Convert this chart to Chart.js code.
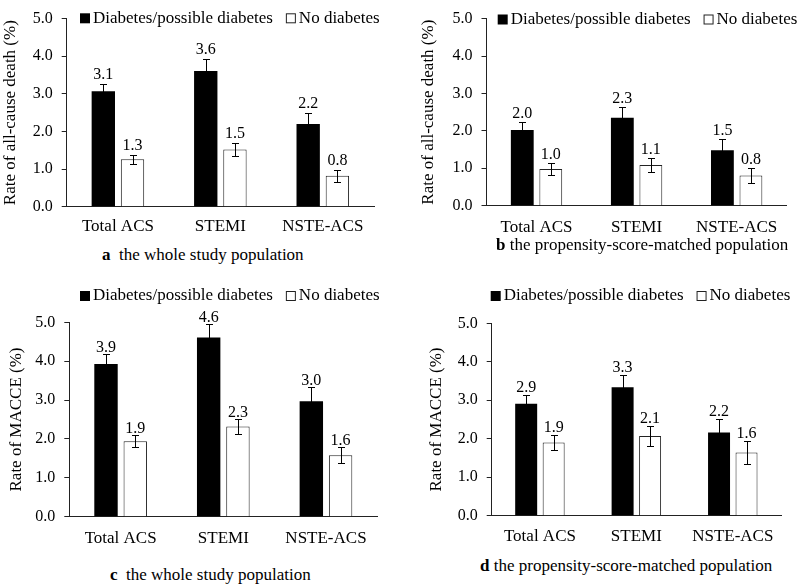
<!DOCTYPE html>
<html>
<head>
<meta charset="utf-8">
<script src="https://cdn.jsdelivr.net/npm/chart.js@4.4.0/dist/chart.umd.min.js"></script>
<style>
  body { margin: 0; background: #fff; width: 797px; height: 585px; position: relative; overflow: hidden;
         font-family: 'Liberation Serif', 'Times New Roman', serif; }
  canvas { position: absolute; }
  .legenda { position: absolute; font-size: 17px; line-height: 1; white-space: nowrap; color: #000; }
</style>
</head>
<body>
<canvas id="gA" width="398" height="240" style="left:0px;top:0px"></canvas>
<canvas id="gB" width="379" height="240" style="left:418px;top:0px"></canvas>
<canvas id="gC" width="392" height="265" style="left:6px;top:285px"></canvas>
<canvas id="gD" width="371" height="265" style="left:426px;top:285px"></canvas>

<div class="legenda" style="left:102px;top:246px"><b>a</b>&nbsp;&nbsp;the whole study population</div>
<div class="legenda" style="left:496px;top:236px"><b>b</b> the propensity-score-matched population</div>
<div class="legenda" style="left:110px;top:566px"><b>c</b>&nbsp;&nbsp;the whole study population</div>
<div class="legenda" style="left:480px;top:557px"><b>d</b> the propensity-score-matched population</div>

<script>
const categories = ['Total ACS', 'STEMI', 'NSTE-ACS'];
const yTicks = [0, 1, 2, 3, 4, 5];

// a - all-cause death, whole population
const deathAllDiab = [3.07, 3.61, 2.20];
const deathAllDiabErr = [0.19, 0.31, 0.30];
const deathAllDiabLbl = ['3.1', '3.6', '2.2'];
const deathAllNo = [1.26, 1.52, 0.82];
const deathAllNoErr = [0.12, 0.16, 0.16];
const deathAllNoLbl = ['1.3', '1.5', '0.8'];

// b - all-cause death, matched population
const deathPsmDiab = [2.02, 2.35, 1.48];
const deathPsmDiabErr = [0.21, 0.29, 0.30];
const deathPsmDiabLbl = ['2.0', '2.3', '1.5'];
const deathPsmNo = [0.98, 1.09, 0.81];
const deathPsmNoErr = [0.15, 0.19, 0.21];
const deathPsmNoLbl = ['1.0', '1.1', '0.8'];

// c - MACCE, whole population
const macceAllDiab = [3.93, 4.61, 2.97];
const macceAllDiabErr = [0.25, 0.35, 0.36];
const macceAllDiabLbl = ['3.9', '4.6', '3.0'];
const macceAllNo = [1.94, 2.32, 1.58];
const macceAllNoErr = [0.15, 0.19, 0.21];
const macceAllNoLbl = ['1.9', '2.3', '1.6'];

// d - MACCE, matched population
const maccePsmDiab = [2.91, 3.34, 2.16];
const maccePsmDiabErr = [0.23, 0.32, 0.35];
const maccePsmDiabLbl = ['2.9', '3.3', '2.2'];
const maccePsmNo = [1.90, 2.07, 1.64];
const maccePsmNoErr = [0.20, 0.27, 0.30];
const maccePsmNoLbl = ['1.9', '2.1', '1.6'];

const FONTE = "'Liberation Serif', 'Times New Roman', serif";
Chart.defaults.font.family = FONTE;
Chart.defaults.font.size = 16;
Chart.defaults.color = '#000';

// legend drawn by hand so it can sit inside the plot like the original
const legendaManual = {
  id: 'legendaManual',
  afterDraw(chart, args, opts) {
    const ctx = chart.ctx;
    ctx.save();
    ctx.font = '17px ' + FONTE;
    ctx.textBaseline = 'middle';
    ctx.textAlign = 'left';
    let x = opts.x;
    chart.data.datasets.forEach(ds => {
      ctx.fillStyle = ds.backgroundColor;
      ctx.fillRect(x, opts.y - 5, 10, 10);
      if (ds.borderWidth) {
        ctx.strokeStyle = '#222';
        ctx.lineWidth = 1;
        ctx.strokeRect(x + 0.5, opts.y - 4.5, 9, 9);
      }
      ctx.fillStyle = '#000';
      ctx.fillText(ds.label, x + 13, opts.y);
      x += 13 + ctx.measureText(ds.label).width + 13;
    });
    ctx.restore();
  }
};

// error bars + value labels
const barrasErro = {
  id: 'barrasErro',
  afterDatasetsDraw(chart, args, opts) {
    const ctx = chart.ctx;
    const y = chart.scales.y;
    ctx.save();
    ctx.strokeStyle = '#000';
    ctx.lineWidth = 1;
    ctx.fillStyle = '#000';
    ctx.font = '16px ' + FONTE;
    ctx.textAlign = 'center';
    ctx.textBaseline = 'middle';
    chart.data.datasets.forEach((ds, i) => {
      chart.getDatasetMeta(i).data.forEach((bar, j) => {
        const v = ds.data[j], e = ds.erro[j];
        const cx = Math.round(bar.x) + 0.5;
        const yTop = Math.round(y.getPixelForValue(v + e)) + 0.5;
        const yBot = Math.round(y.getPixelForValue(v - e)) + 0.5;
        ctx.beginPath();
        ctx.moveTo(cx, yTop); ctx.lineTo(cx, yBot);
        ctx.moveTo(cx - 3.5, yTop); ctx.lineTo(cx + 3.5, yTop);
        ctx.moveTo(cx - 3.5, yBot); ctx.lineTo(cx + 3.5, yBot);
        ctx.stroke();
        ctx.fillText(ds.rotulos[j], bar.x, yTop - opts.gap);
      });
    });
    ctx.restore();
  }
};

function criarPainel(id, p) {
  return new Chart(document.getElementById(id), {
    type: 'bar',
    data: {
      labels: categories,
      datasets: [{
        label: 'Diabetes/possible diabetes',
        data: p.diab, erro: p.diabErr, rotulos: p.diabLbl,
        backgroundColor: '#000', borderColor: '#000', borderWidth: 0
      }, {
        label: 'No diabetes',
        data: p.no, erro: p.noErr, rotulos: p.noLbl,
        backgroundColor: '#fff', borderColor: '#222', borderWidth: 1
      }]
    },
    options: {
      responsive: false,
      animation: false,
      datasets: { bar: { categoryPercentage: 0.57, barPercentage: 0.8 } },
      layout: { padding: { top: p.padTop, right: p.padRight, left: 0, bottom: 0 } },
      plugins: {
        legend: { display: false },
        tooltip: { enabled: false },
        legendaManual: p.legenda,
        barrasErro: { gap: p.gap }
      },
      scales: {
        x: {
          grid: { display: true, drawOnChartArea: false, drawTicks: false },
          border: { color: '#222', width: 1 },
          ticks: { padding: p.xPad, color: '#000', font: { size: 17 } },
          afterFit: s => { s.height = p.xHeight; }
        },
        y: {
          min: 0, max: 5,
          afterBuildTicks: s => { s.ticks = yTicks.map(v => ({ value: v })); },
          ticks: { padding: 9, color: '#000', callback: v => Number(v).toFixed(1) },
          grid: { display: true, drawOnChartArea: false, drawTicks: true, tickLength: 5, color: '#222' },
          border: { color: '#222', width: 1 },
          title: { display: true, text: p.yTitle, color: '#000', padding: 0, font: { size: 17 } },
          afterFit: s => { s.width = p.yWidth; }
        }
      }
    },
    plugins: [legendaManual, barrasErro]
  });
}

criarPainel('gA', {
  diab: deathAllDiab, diabErr: deathAllDiabErr, diabLbl: deathAllDiabLbl,
  no: deathAllNo, noErr: deathAllNoErr, noLbl: deathAllNoLbl,
  yTitle: 'Rate of all-cause death (%)',
  yWidth: 66.7, padTop: 11, padRight: 24, xHeight: 33.3, xPad: 9.8,
  legenda: { x: 80, y: 18.3 }, gap: 9.5
});
criarPainel('gB', {
  diab: deathPsmDiab, diabErr: deathPsmDiabErr, diabLbl: deathPsmDiabLbl,
  no: deathPsmNo, noErr: deathPsmNoErr, noLbl: deathPsmNoLbl,
  yTitle: 'Rate of all-cause death (%)',
  yWidth: 68.5, padTop: 11, padRight: 10.3, xHeight: 34.3, xPad: 11.6,
  legenda: { x: 79.7, y: 19.5 }, gap: 9.2
});
criarPainel('gC', {
  diab: macceAllDiab, diabErr: macceAllDiabErr, diabLbl: macceAllDiabLbl,
  no: macceAllNo, noErr: macceAllNoErr, noLbl: macceAllNoLbl,
  yTitle: 'Rate of MACCE (%)',
  yWidth: 63.3, padTop: 37.3, padRight: 20.7, xHeight: 33.3, xPad: 11.4,
  legenda: { x: 74, y: 11 }, gap: 6.5
});
criarPainel('gD', {
  diab: maccePsmDiab, diabErr: maccePsmDiabErr, diabLbl: maccePsmDiabLbl,
  no: maccePsmNo, noErr: maccePsmNoErr, noLbl: maccePsmNoLbl,
  yTitle: 'Rate of MACCE (%)',
  yWidth: 65.7, padTop: 38.3, padRight: 16, xHeight: 34.3, xPad: 10.8,
  legenda: { x: 64.7, y: 11 }, gap: 7.8
});
</script>
</body>
</html>
